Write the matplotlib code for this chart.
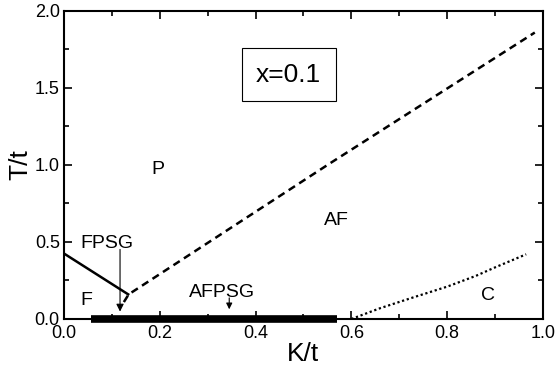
import numpy as np
import matplotlib
matplotlib.use("Agg")
import matplotlib.pyplot as plt
from matplotlib.ticker import MultipleLocator

plt.rcParams['font.family'] = ['Liberation Sans', 'DejaVu Sans']

# phase boundaries
fp_K = [0.0, 0.134]          # F / P boundary (solid)
fp_T = [0.425, 0.16]
afp_K = [0.125, 0.135, 0.555, 0.983]   # AF / P boundary (dashed)
afp_T = [0.11, 0.16, 1.01, 1.86]
c_K = [0.60, 0.66, 0.729, 0.80, 0.86, 0.90, 0.965]   # C boundary (dotted)
c_T = [0.0, 0.07, 0.14, 0.21, 0.28, 0.335, 0.42]
sg_K = [0.056, 0.57]         # spin glass segment on T=0
sg_T = [0.0, 0.0]

fig = plt.figure(figsize=(5.58, 3.72), dpi=100)
ax = fig.add_axes([0.1147, 0.1425, 0.8583, 0.828])

ax.plot(fp_K, fp_T, color="black", lw=1.8)
ax.plot(afp_K, afp_T, color="black", lw=1.8, linestyle=(0, (3, 2)))
ax.plot(c_K, c_T, color="black", lw=1.6, linestyle=(0, (1, 1.2)))
ax.plot(sg_K, sg_T, color="black", lw=5.5, solid_capstyle="butt", clip_on=False, zorder=5)

# arrows
ax.annotate("", xy=(0.117, 0.03), xytext=(0.117, 0.47),
            arrowprops=dict(arrowstyle="-|>", color="black", lw=0.8, mutation_scale=11))
ax.annotate("", xy=(0.345, 0.045), xytext=(0.345, 0.155),
            arrowprops=dict(arrowstyle="-|>", color="black", lw=0.8, mutation_scale=9))

fs = 14
ax.text(0.196, 0.97, "P", fontsize=fs, ha="center", va="center")
ax.text(0.568, 0.64, "AF", fontsize=fs, ha="center", va="center")
ax.text(0.046, 0.12, "F", fontsize=fs, ha="center", va="center")
ax.text(0.09, 0.49, "FPSG", fontsize=fs, ha="center", va="center")
ax.text(0.33, 0.175, "AFPSG", fontsize=fs, ha="center", va="center")
ax.text(0.885, 0.155, "C", fontsize=fs, ha="center", va="center")
ax.text(0.469, 1.585, "x=0.1", fontsize=19, ha="center", va="center",
        bbox=dict(boxstyle="square,pad=0.55", fc="white", ec="black", lw=0.8))

ax.set_xlim(0, 1.0)
ax.set_ylim(0, 2.0)
ax.xaxis.set_major_locator(MultipleLocator(0.2))
ax.xaxis.set_minor_locator(MultipleLocator(0.1))
ax.yaxis.set_major_locator(MultipleLocator(0.5))
ax.yaxis.set_minor_locator(MultipleLocator(0.25))
ax.xaxis.set_major_formatter(lambda v, p: "{:.1f}".format(v))
ax.yaxis.set_major_formatter(lambda v, p: "{:.1f}".format(v))
ax.tick_params(which="both", direction="in", top=True, right=True, labelsize=13, width=1.2, pad=3)
ax.tick_params(axis="x", which="major", pad=4)
ax.tick_params(which="major", length=6)
ax.tick_params(which="minor", length=3.5)
for s in ax.spines.values():
    s.set_linewidth(1.5)

ax.set_xlabel("K/t", fontsize=19, labelpad=0)
ax.set_ylabel("T/t", fontsize=19, labelpad=2)

plt.savefig("out.png", dpi=100)
